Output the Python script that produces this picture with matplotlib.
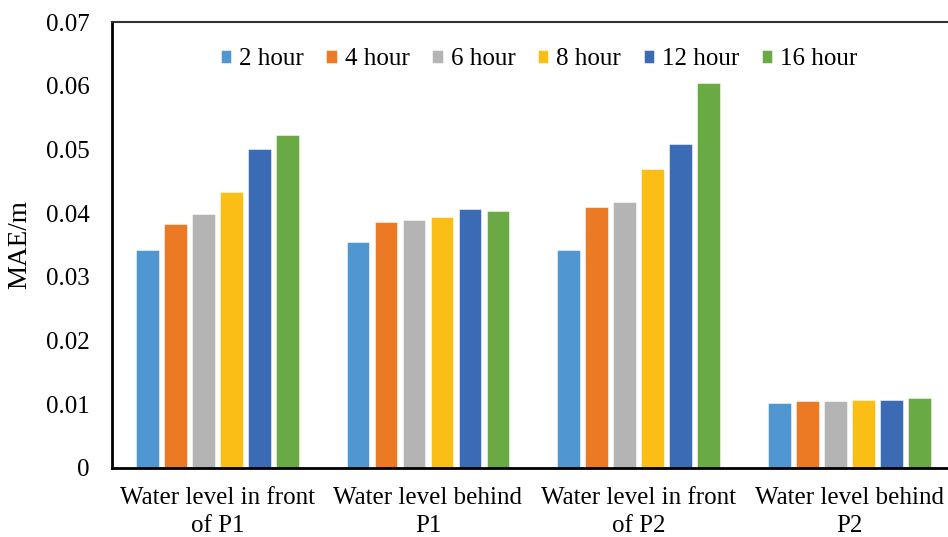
import matplotlib
matplotlib.use("Agg")
import matplotlib.pyplot as plt
import numpy as np

plt.rcParams['font.family'] = ['Liberation Serif', 'DejaVu Serif']

categories = ["Water level in front\nof P1", "Water level behind\nP1",
              "Water level in front\nof P2", "Water level behind\nP2"]
series_names = ["2 hour", "4 hour", "6 hour", "8 hour", "12 hour", "16 hour"]
mae_2h = [0.0342, 0.0355, 0.0342, 0.0102]
mae_4h = [0.0383, 0.0386, 0.0410, 0.0105]
mae_6h = [0.0399, 0.0389, 0.0417, 0.0105]
mae_8h = [0.0433, 0.0394, 0.0470, 0.0107]
mae_12h = [0.0501, 0.0407, 0.0509, 0.0107]
mae_16h = [0.0522, 0.0404, 0.0605, 0.0110]
series_values = [mae_2h, mae_4h, mae_6h, mae_8h, mae_12h, mae_16h]
colors = ['#5096D1', '#EC7A24', '#B4B4B4', '#FBBE15', '#3A6BB4', '#6AAA44']
yticks = [0, 0.01, 0.02, 0.03, 0.04, 0.05, 0.06, 0.07]
ytick_labels = ["0", "0.01", "0.02", "0.03", "0.04", "0.05", "0.06", "0.07"]

fs = 18

fig = plt.figure(figsize=(9.48, 5.37), dpi=100)
ax = fig.add_axes([0.1181, 0.1285, 0.889, 0.8305])

x = np.arange(len(categories))
pitch = 0.133
width = 0.107
for i, (name, vals, c) in enumerate(zip(series_names, series_values, colors)):
    offset = (i - (len(series_names) - 1) / 2) * pitch
    ax.bar(x + offset, vals, width=width, color=c, edgecolor=(1, 1, 1, 0.6),
           linewidth=0.6, label=name, zorder=2)

ax.set_xlim(-0.5, 3.5)
ax.set_ylim(0, 0.07)
ax.set_yticks(yticks)
ax.set_yticklabels(ytick_labels)
ax.set_xticks(x)
ax.set_xticklabels(categories, linespacing=1.3)
ax.tick_params(axis='both', length=0, labelsize=fs)
ax.tick_params(axis='y', pad=16)
ax.tick_params(axis='x', pad=14)

ax.set_ylabel("MAE/m", fontsize=19.5)
ax.yaxis.set_label_coords(-0.094, 0.5)

for side in ['left', 'bottom']:
    ax.spines[side].set_color('black')
    ax.spines[side].set_linewidth(2.0)
ax.spines['top'].set_color('#333333')
ax.spines['top'].set_linewidth(1.5)
ax.spines['right'].set_visible(False)

leg = ax.legend(loc='center left', bbox_to_anchor=(0.129, 0.916), ncol=6,
                frameon=False, fontsize=fs, handlelength=0.42,
                handleheight=0.42, handletextpad=0.32, columnspacing=0.9,
                borderaxespad=0, borderpad=0)

fig.savefig("out.png", dpi=100)
